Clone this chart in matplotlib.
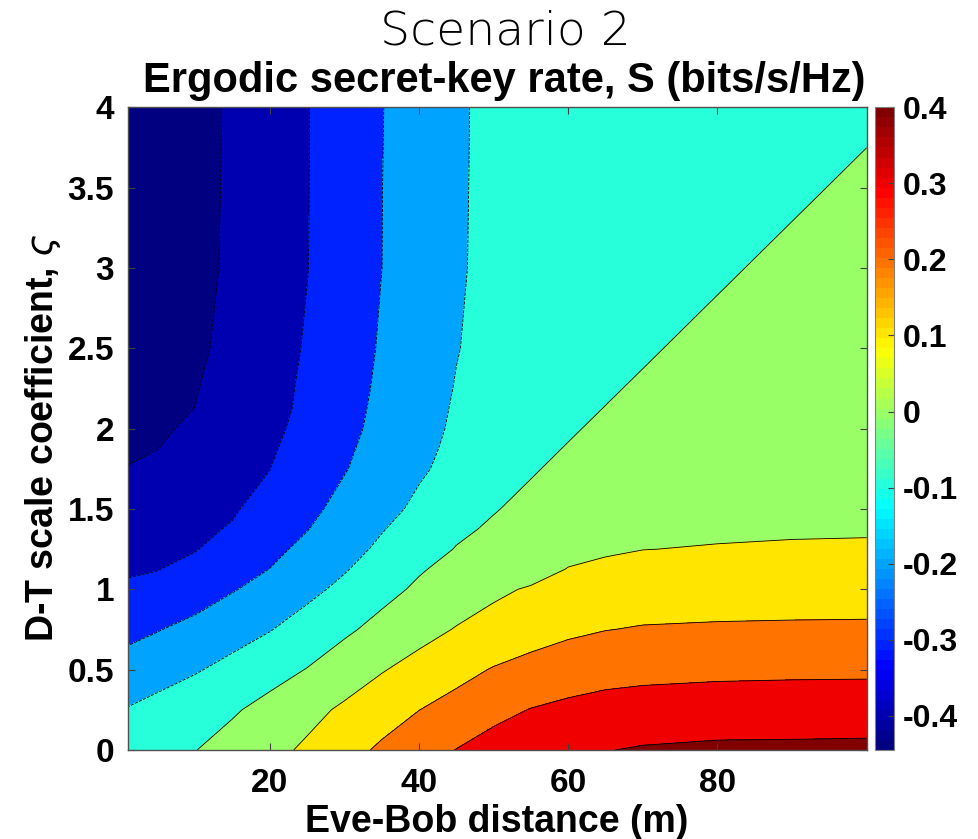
import matplotlib

matplotlib.use("Agg")

import matplotlib.pyplot as plt
import numpy as np
from matplotlib.cm import ScalarMappable
from matplotlib.colors import LinearSegmentedColormap, Normalize

# Eve-Bob distance (m) and D-T scale coefficient grid
DISTANCE = [1, 5, 10, 15, 20, 25, 30, 35, 40, 45, 50, 55, 60, 65, 70, 80, 90, 100]
SCALE = [0.0, 0.25, 0.5, 0.75, 1.0, 1.125, 1.25, 1.375, 1.5, 1.625, 1.75, 1.875,
         2.0, 2.125, 2.25, 2.5, 3.0, 3.5, 4.0]

# estimated secret-key rate at each (scale, distance) node, one row per scale value
RATE = [
    [-0.035, -0.020, -0.002, 0.034, 0.073, 0.115, 0.166, 0.215, 0.260, 0.302, 0.335, 0.355, 0.375, 0.397, 0.408, 0.417, 0.418, 0.420],
    [-0.095, -0.071, -0.040, -0.010, 0.029, 0.072, 0.115, 0.157, 0.199, 0.234, 0.275, 0.303, 0.317, 0.332, 0.340, 0.348, 0.350, 0.352],
    [-0.161, -0.138, -0.108, -0.073, -0.035, 0.003, 0.048, 0.094, 0.133, 0.170, 0.206, 0.233, 0.260, 0.268, 0.274, 0.280, 0.283, 0.284],
    [-0.226, -0.204, -0.172, -0.138, -0.104, -0.060, -0.015, 0.027, 0.068, 0.105, 0.130, 0.157, 0.180, 0.198, 0.206, 0.210, 0.212, 0.213],
    [-0.288, -0.276, -0.249, -0.206, -0.167, -0.124, -0.078, -0.027, 0.014, 0.050, 0.085, 0.108, 0.130, 0.146, 0.152, 0.159, 0.161, 0.162],
    [-0.309, -0.302, -0.2765, -0.235, -0.199, -0.1515, -0.107, -0.0555, -0.008, 0.027, 0.049, 0.067, 0.103, 0.1175, 0.1255, 0.1315, 0.134, 0.135],
    [-0.330, -0.321, -0.304, -0.264, -0.222, -0.179, -0.131, -0.084, -0.020, 0.002, 0.0125, 0.0262, 0.076, 0.089, 0.099, 0.104, 0.107, 0.108],
    [-0.3465, -0.334, -0.318, -0.293, -0.244, -0.203, -0.1525, -0.105, -0.061, -0.0083, 0.006, 0.0187, 0.0505, 0.0735, 0.083, 0.089, 0.0925, 0.094],
    [-0.363, -0.347, -0.326, -0.309, -0.266, -0.221, -0.174, -0.126, -0.083, -0.025, -0.0025, 0.0112, 0.025, 0.058, 0.067, 0.074, 0.078, 0.080],
    [-0.3805, -0.362, -0.3395, -0.320, -0.288, -0.237, -0.1895, -0.142, -0.097, -0.060, -0.010, 0.0037, 0.0175, 0.041, 0.056, 0.068, 0.074, 0.078],
    [-0.398, -0.377, -0.353, -0.326, -0.301, -0.253, -0.205, -0.158, -0.111, -0.075, -0.0175, -0.0038, 0.010, 0.0237, 0.045, 0.062, 0.070, 0.076],
    [-0.409, -0.4005, -0.3695, -0.338, -0.3105, -0.2635, -0.214, -0.1675, -0.1215, -0.0805, -0.039, -0.0113, 0.0025, 0.0162, 0.034, 0.055, 0.0665, 0.073],
    [-0.420, -0.412, -0.386, -0.350, -0.320, -0.274, -0.223, -0.177, -0.132, -0.086, -0.061, -0.0188, -0.005, 0.0087, 0.0224, 0.048, 0.063, 0.070],
    [-0.425, -0.415, -0.3995, -0.3585, -0.324, -0.284, -0.229, -0.181, -0.136, -0.091, -0.0675, -0.036, -0.0125, 0.0012, 0.0149, 0.0415, 0.059, 0.0665],
    [-0.430, -0.418, -0.404, -0.367, -0.328, -0.286, -0.235, -0.185, -0.140, -0.096, -0.074, -0.053, -0.020, -0.0063, 0.0074, 0.0349, 0.055, 0.063],
    [-0.440, -0.425, -0.410, -0.385, -0.335, -0.293, -0.242, -0.192, -0.148, -0.1033, -0.0733, -0.060, -0.0403, -0.0213, -0.0076, 0.0199, 0.0474, 0.055],
    [-0.455, -0.437, -0.414, -0.392, -0.343, -0.302, -0.251, -0.2005, -0.157, -0.109, -0.079, -0.070, -0.062, -0.052, -0.0376, -0.0101, 0.0174, 0.0449],
    [-0.462, -0.442, -0.417, -0.392, -0.345, -0.303, -0.252, -0.201, -0.158, -0.110, -0.080, -0.075, -0.070, -0.065, -0.058, -0.0401, -0.0126, 0.0149],
    [-0.470, -0.448, -0.420, -0.392, -0.346, -0.3034, -0.253, -0.2025, -0.159, -0.1108, -0.0808, -0.078, -0.075, -0.072, -0.068, -0.060, -0.0426, -0.0151],
]

LEVELS = [-0.4, -0.3, -0.2, -0.1, 0.0, 0.1, 0.2, 0.3, 0.4]
COLOR_LIMITS = (-0.445, 0.40)
X_TICKS = [20, 40, 60, 80]
Y_TICKS = [0, 0.5, 1, 1.5, 2, 2.5, 3, 3.5, 4]
CBAR_TICKS = [-0.4, -0.3, -0.2, -0.1, 0, 0.1, 0.2, 0.3, 0.4]

BOLD = {"family": ["Liberation Sans", "DejaVu Sans"], "weight": "bold"}

plt.rcParams["axes.unicode_minus"] = False

# MATLAB-style jet with 64 steps
JET = LinearSegmentedColormap.from_list(
    "matlab_jet",
    [(0.0, (0, 0, 0.5)), (1 / 8, (0, 0, 1)), (3 / 8, (0, 1, 1)),
     (5 / 8, (1, 1, 0)), (7 / 8, (1, 0, 0)), (1.0, (0.5, 0, 0))],
    N=64,
)


def fmt(v):
    return f"{v:g}"


def main():
    z = np.array(RATE)
    norm = Normalize(*COLOR_LIMITS)
    levels = [z.min()] + LEVELS + [z.max()]
    # each band takes the colour of its lower level, as MATLAB contourf does
    band_colors = [JET(norm(v)) for v in levels[:-1]]

    fig = plt.figure(figsize=(9.79, 8.39), dpi=100)
    ax = fig.add_axes([0.1307, 0.1061, 0.7546, 0.766])
    ax.contourf(DISTANCE, SCALE, z, levels=levels, colors=band_colors)
    ax.contour(DISTANCE, SCALE, z, levels=LEVELS, colors="k", linewidths=0.6)

    ax.set_xlim(1, 100)
    ax.set_ylim(0, 4)
    ax.set_xticks(X_TICKS)
    ax.set_xticklabels([fmt(v) for v in X_TICKS], fontsize=24, **BOLD)
    ax.set_yticks(Y_TICKS)
    ax.set_yticklabels([fmt(v) for v in Y_TICKS], fontsize=24, **BOLD)
    ax.tick_params(direction="in", length=5, width=0.8, color="#404040",
                   top=True, right=True)
    ax.tick_params(axis="x", pad=13)
    ax.tick_params(axis="y", pad=10)
    for spine in ax.spines.values():
        spine.set_color("#505050")
        spine.set_linewidth(1.0)

    cax = fig.add_axes([0.8938, 0.1061, 0.0194, 0.766])
    cb = fig.colorbar(ScalarMappable(norm=norm, cmap=JET), cax=cax, ticks=CBAR_TICKS)
    cb.ax.set_yticklabels([fmt(v) for v in CBAR_TICKS], fontsize=23, **BOLD)
    cb.ax.tick_params(direction="in", length=4, width=0.8, color="#404040", pad=6)
    cb.outline.set_edgecolor("#808080")

    fig.text(0.516, 0.962, "Scenario 2", ha="center", va="center",
             fontsize=34, family=["DejaVu Sans"], weight="light", color="black")
    fig.text(0.515, 0.9035, "Ergodic secret-key rate, S (bits/s/Hz)",
             ha="center", va="center", fontsize=30, **BOLD)
    fig.text(0.507, 0.020, "Eve-Bob distance (m)", ha="center", va="center",
             fontsize=27, **BOLD)
    fig.text(0.044, 0.478, r"D-T scale coefficient, $\varsigma$", ha="center", va="center",
             rotation=90, fontsize=27, **BOLD)

    fig.savefig("out.png", dpi=100)
    plt.close(fig)


if __name__ == "__main__":
    main()
